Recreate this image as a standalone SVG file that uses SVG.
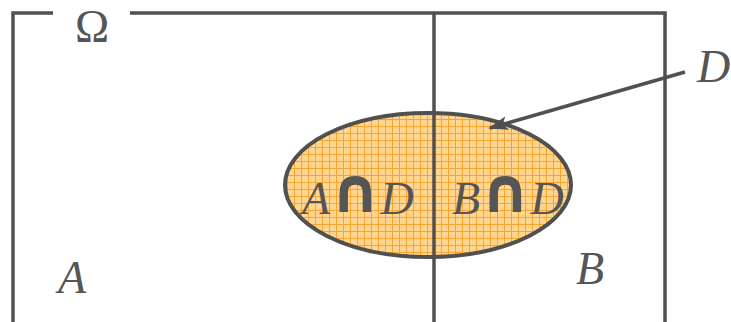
<svg xmlns="http://www.w3.org/2000/svg" width="731" height="322" viewBox="0 0 731 322">
<style>
.ln{stroke:#505050;stroke-width:3.5;fill:none}
.t{font-family:"Liberation Serif","DejaVu Serif",serif;font-style:italic;fill:#555;font-size:46px}
.cap{font-family:"DejaVu Sans",sans-serif;font-style:normal;font-weight:bold;font-size:62px}
</style>
<defs>
<pattern id="grid" width="7" height="7" patternUnits="userSpaceOnUse">
<rect width="7" height="7" fill="#FFD590"/>
<path d="M0 0.5H7M0.5 0V7" stroke="#F7A531" stroke-width="1"/>
</pattern>
<marker id="ah" markerWidth="20" markerHeight="16" refX="18" refY="8" orient="auto" markerUnits="userSpaceOnUse" viewBox="0 0 20 16">
<path d="M0 1L20 8L0 15L5 8Z" fill="#505050"/>
</marker>
</defs>
<g id="omega">
<path class="ln" d="M53 13H13V322M130 13H665V322"/>
<text x="92" y="42" text-anchor="middle" style="font-family:'Liberation Serif',serif;font-size:46px;fill:#555">Ω</text>
</g>
<g id="D-ellipse">
<ellipse cx="428" cy="185" rx="143" ry="72" fill="url(#grid)" stroke="#505050" stroke-width="4"/>
</g>
<g id="divider">
<line class="ln" x1="434" y1="13" x2="434" y2="322"/>
</g>
<g id="connectors">
<line class="ln" x1="685" y1="72" x2="490" y2="128" marker-end="url(#ah)"/>
</g>
<g id="labels">
<text class="t" x="302" y="214">A<tspan class="cap" dy="-2">∩</tspan><tspan dy="2">D</tspan></text>
<text class="t" x="452" y="214">B<tspan class="cap" dy="-2">∩</tspan><tspan dy="2">D</tspan></text>
<text class="t" x="58" y="293">A</text>
<text class="t" x="576" y="284">B</text>
<text class="t" x="697" y="82">D</text>
</g>
</svg>
